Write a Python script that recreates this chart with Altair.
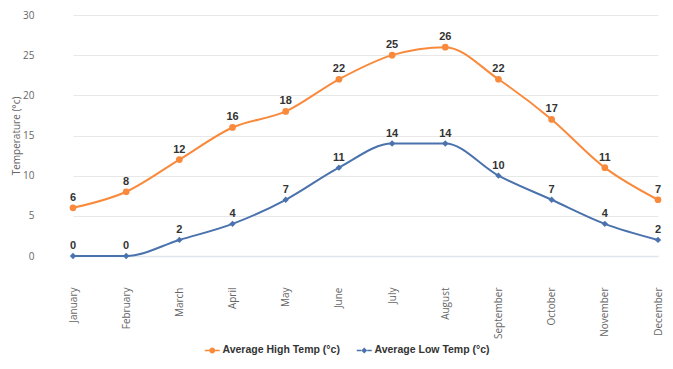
import altair as alt
import pandas as pd

months = ["January", "February", "March", "April", "May", "June", "July",
          "August", "September", "October", "November", "December"]
high = [6, 8, 12, 16, 18, 22, 25, 26, 22, 17, 11, 7]
low = [0, 0, 2, 4, 7, 11, 14, 14, 10, 7, 4, 2]
series_names = ["Average High Temp (°c)", "Average Low Temp (°c)"]
y_ticks = [0, 5, 10, 15, 20, 25, 30]

ORANGE = "#f98a3c"
BLUE = "#4a72ad"

rows = []
for m, h, l in zip(months, high, low):
    rows.append({"month": m, "series": series_names[0], "value": h})
    rows.append({"month": m, "series": series_names[1], "value": l})
df = pd.DataFrame(rows)

x = alt.X("month:N", sort=months,
          scale=alt.Scale(type="point", range=[29, 614], padding=0),
          axis=alt.Axis(title=None, labelAngle=-90, labelPadding=31, ticks=False,
                        domain=True, domainColor="#dfe5ef", domainWidth=1.5,
                        labelFont="Open Sans", labelFontSize=10, labelColor="#666666"))
y = alt.Y("value:Q",
          scale=alt.Scale(domain=[0, 30], nice=False, zero=True),
          axis=alt.Axis(values=y_ticks, title="Temperature (°c)", grid=True,
                        gridColor="#e8e8e8", gridWidth=1, domain=False, ticks=False,
                        labelPadding=10, labelFont="Open Sans", labelFontSize=10,
                        labelColor="#666666", titleFont="Open Sans", titleFontSize=10,
                        titleFontWeight="normal", titleColor="#666666", titlePadding=1))

base = alt.Chart(df)
high_data = base.transform_filter(alt.datum.series == series_names[0])
low_data = base.transform_filter(alt.datum.series == series_names[1])

line_high = high_data.mark_line(interpolate="monotone", strokeWidth=2, color=ORANGE).encode(x=x, y=y)
line_low = low_data.mark_line(interpolate="monotone", strokeWidth=2, color=BLUE).encode(x=x, y=y)

pts_high = high_data.mark_point(shape="circle", filled=True, size=45, opacity=1,
                                color=ORANGE).encode(x=x, y=y)
pts_low = low_data.mark_point(shape="diamond", filled=True, size=40, opacity=1,
                              color=BLUE).encode(x=x, y=y)

labels = base.mark_text(dy=-10, font="Liberation Sans", fontWeight="bold",
                        fontSize=11, color="#333333").encode(
    x=x, y=y, text=alt.Text("value:Q"))

path_circle = ("M-1.5,-0.15H-0.58V0.15H-1.5Z M0.58,-0.15H1.5V0.15H0.58Z "
               "M-0.6,0A0.6,0.6,0,1,0,0.6,0A0.6,0.6,0,1,0,-0.6,0Z")
path_diamond = ("M-1.5,-0.15H-0.6V0.15H-1.5Z M0.6,-0.15H1.5V0.15H0.6Z "
                "M0,-0.6L0.6,0L0,0.6L-0.6,0Z")

leg = alt.Legend(title=None, orient="none", legendX=163, legendY=330,
                 direction="horizontal", symbolSize=100, symbolStrokeWidth=0,
                 symbolOpacity=1,
                 labelFont="Liberation Sans", labelFontWeight="bold", labelFontSize=10.5,
                 labelColor="#333333", labelOffset=5, columnPadding=16)

legend_layer = base.mark_point(filled=True, opacity=0).encode(
    x=x, y=y,
    color=alt.Color("series:N", scale=alt.Scale(domain=series_names, range=[ORANGE, BLUE]), legend=leg),
    shape=alt.Shape("series:N", scale=alt.Scale(domain=series_names, range=[path_circle, path_diamond]), legend=leg),
)

chart = alt.layer(line_high, line_low, pts_high, pts_low, labels, legend_layer).properties(
    width=621, height=241,
    autosize=alt.AutoSizeParams(type="none"),
    padding={"left": 36, "top": 7, "right": 0, "bottom": 99},
).configure_view(stroke=None)

chart.save("out.html", embed_options={"renderer": "svg", "actions": False})
